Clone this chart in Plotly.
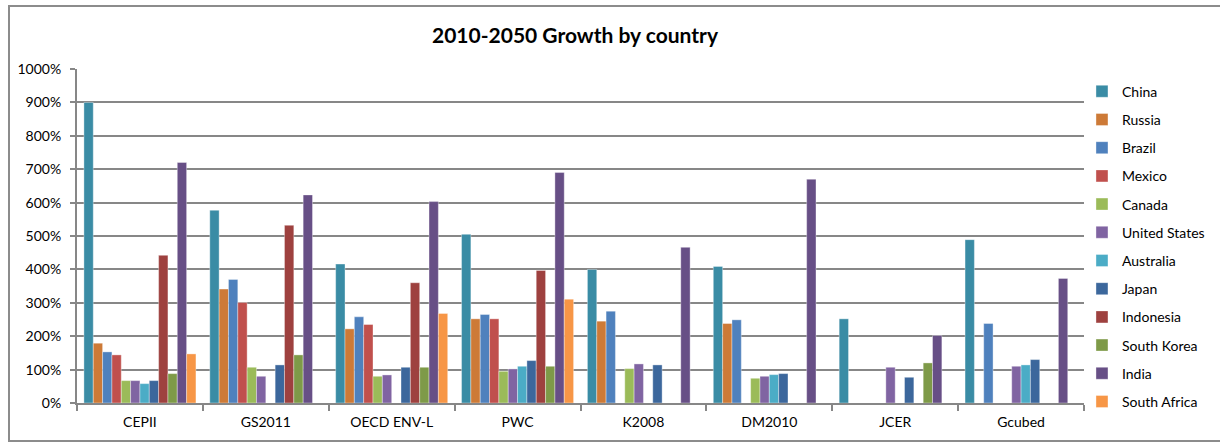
import plotly.graph_objects as go

# Growth 2010-2050 (%) by model/study and country
models = ["CEPII", "GS2011", "OECD ENV-L", "PWC", "K2008", "DM2010", "JCER", "Gcubed"]

china         = [900, 577, 416, 505, 400, 409, 252, 489]
russia        = [179, 341, 222, 252, 245, 238, None, None]
brazil        = [153, 370, 258, 265, 275, 249, None, 238]
mexico        = [144, 301, 235, 252, None, None, None, None]
canada        = [67, 107, 80, 95, 103, 74, None, None]
united_states = [67, 80, 84, 102, 117, 80, 107, 110]
australia     = [58, None, None, 110, None, 85, None, 114]
japan         = [67, 114, 107, 127, 114, 88, 77, 130]
indonesia     = [442, 532, 360, 397, None, None, None, None]
south_korea   = [88, 144, 107, 110, None, None, 120, None]
india         = [720, 623, 603, 690, 466, 670, 202, 373]
south_africa  = [147, None, 268, 311, None, None, None, None]

series = [
    ("China", china, "#3A8CA5"),
    ("Russia", russia, "#CD7A37"),
    ("Brazil", brazil, "#4F81BD"),
    ("Mexico", mexico, "#C0504D"),
    ("Canada", canada, "#9BBB59"),
    ("United States", united_states, "#8064A2"),
    ("Australia", australia, "#4BACC6"),
    ("Japan", japan, "#3C679C"),
    ("Indonesia", indonesia, "#9E413F"),
    ("South Korea", south_korea, "#7E9A48"),
    ("India", india, "#674F86"),
    ("South Africa", south_africa, "#F79646"),
]

fig = go.Figure()
for name, vals, color in series:
    fig.add_trace(go.Bar(
        x=models, y=vals, name=name, legendgroup=name,
        marker=dict(color=color, line=dict(color="rgba(255,255,255,0.45)", width=0.8)),
    ))

grid = "#878787"
font = "Lato, Carlito, 'Liberation Sans', sans-serif"

fig.update_layout(
    width=1220, height=443,
    margin=dict(l=77, r=136, t=69, b=40, autoexpand=False),
    paper_bgcolor="white", plot_bgcolor="white",
    barmode="group", bargap=0.11, bargroupgap=0,
    font=dict(family=font, size=14, color="#000000"),
    title=dict(text="<b>2010-2050 Growth by country</b>", x=(575 - 77) / 1007,
               xanchor="center", y=0.92, yanchor="middle", xref="paper",
               font=dict(family=font, size=21, color="#000000")),
    legend=dict(x=0.998, xanchor="left", y=0.98, yanchor="top",
                font=dict(family=font, size=14), tracegroupgap=7,
                maxheight=420, bgcolor="rgba(0,0,0,0)"),
    xaxis=dict(showgrid=False, showline=True, linecolor=grid, linewidth=2,
               ticks="outside", tickson="boundaries", ticklen=6, tickcolor=grid,
               tickwidth=2, tickfont=dict(size=14), ticklabelstandoff=5,
               automargin=False),
    yaxis=dict(range=[0, 1000], dtick=100, ticksuffix="%", showgrid=True,
               gridcolor=grid, gridwidth=2, showline=True, linecolor=grid, linewidth=2,
               ticks="outside", ticklen=5, tickcolor=grid, tickwidth=2,
               tickfont=dict(size=14), ticklabelstandoff=6, zeroline=False,
               automargin=False),
)

# chart frame
fig.add_shape(type="rect", xref="paper", yref="paper",
              x0=(9 - 77) / 1007, x1=1.3, y0=(403 - 441) / 334, y1=(403 - 6) / 334,
              line=dict(color="#8C8C8C", width=2), layer="below")

fig.write_html("out.html")
